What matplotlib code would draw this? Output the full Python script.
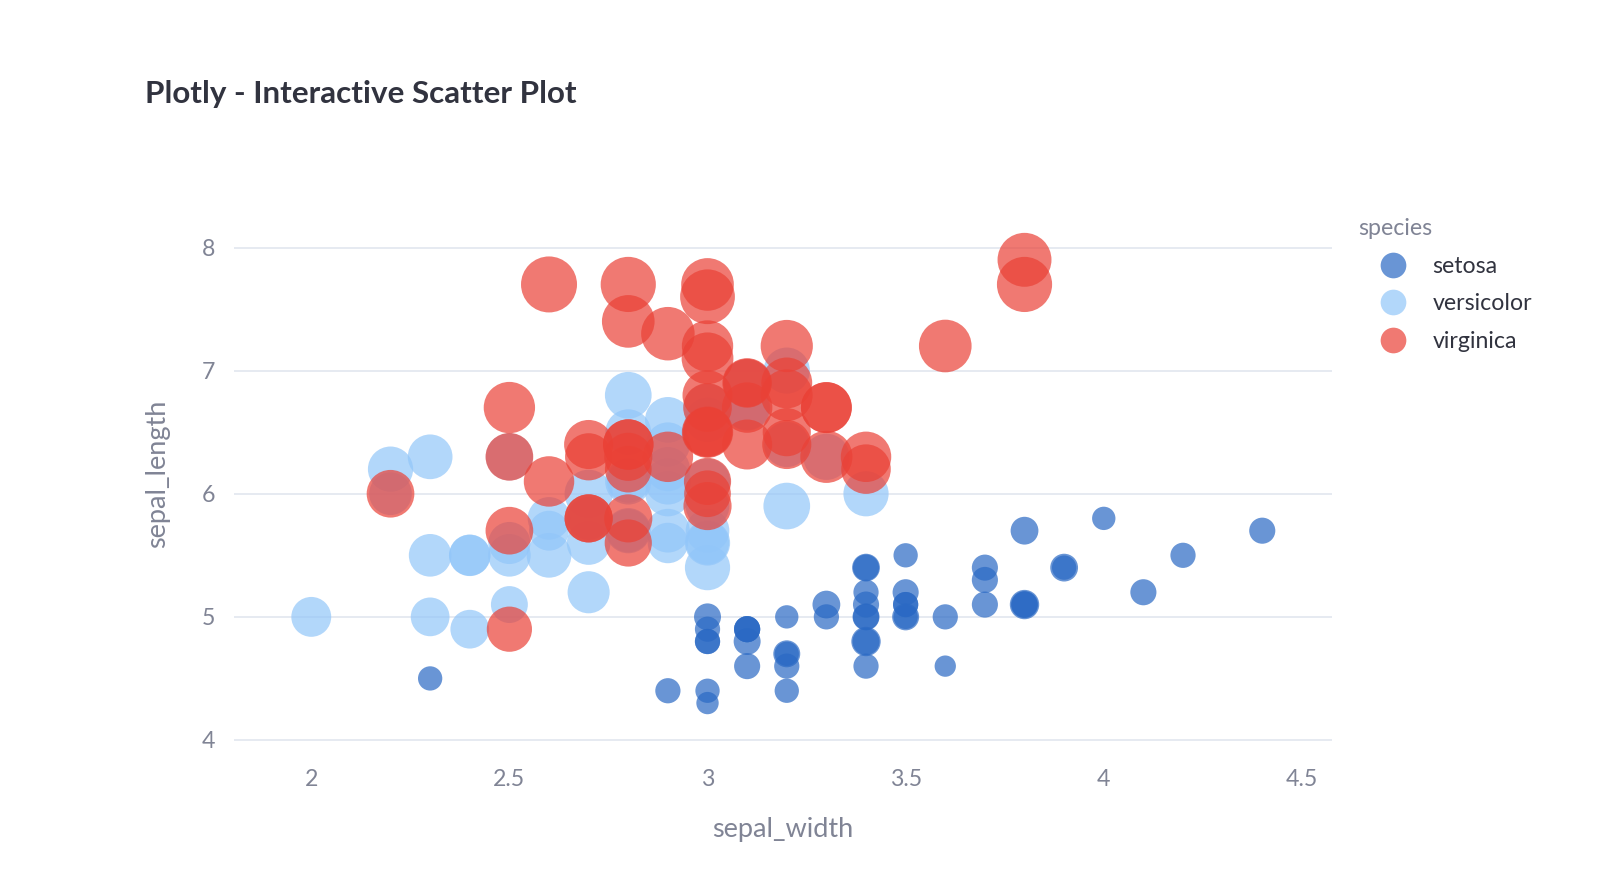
import matplotlib
matplotlib.use("Agg")
import matplotlib.pyplot as plt
from matplotlib.lines import Line2D
import numpy as np

plt.rcParams['font.family'] = ['Lato', 'DejaVu Sans']

species_names = ["setosa", "versicolor", "virginica"]

setosa_sepal_length = [5.1,4.9,4.7,4.6,5.0,5.4,4.6,5.0,4.4,4.9,5.4,4.8,4.8,4.3,5.8,5.7,5.4,5.1,5.7,5.1,
                       5.4,5.1,4.6,5.1,4.8,5.0,5.0,5.2,5.2,4.7,4.8,5.4,5.2,5.5,4.9,5.0,5.5,4.9,4.4,5.1,
                       5.0,4.5,4.4,5.0,5.1,4.8,5.1,4.6,5.3,5.0]
setosa_sepal_width = [3.5,3.0,3.2,3.1,3.6,3.9,3.4,3.4,2.9,3.1,3.7,3.4,3.0,3.0,4.0,4.4,3.9,3.5,3.8,3.8,
                      3.4,3.7,3.6,3.3,3.4,3.0,3.4,3.5,3.4,3.2,3.1,3.4,4.1,4.2,3.1,3.2,3.5,3.1,3.0,3.4,
                      3.5,2.3,3.2,3.5,3.8,3.0,3.8,3.2,3.7,3.3]
setosa_petal_length = [1.4,1.4,1.3,1.5,1.4,1.7,1.4,1.5,1.4,1.5,1.5,1.6,1.4,1.1,1.2,1.5,1.3,1.4,1.7,1.5,
                       1.7,1.5,1.0,1.7,1.9,1.6,1.6,1.5,1.4,1.6,1.6,1.5,1.5,1.4,1.5,1.2,1.3,1.5,1.3,1.5,
                       1.3,1.3,1.3,1.6,1.9,1.4,1.6,1.4,1.5,1.4]

versicolor_sepal_length = [7.0,6.4,6.9,5.5,6.5,5.7,6.3,4.9,6.6,5.2,5.0,5.9,6.0,6.1,5.6,6.7,5.6,5.8,6.2,5.6,
                           5.9,6.1,6.3,6.1,6.4,6.6,6.8,6.7,6.0,5.7,5.5,5.5,5.8,6.0,5.4,6.0,6.7,6.3,5.6,5.5,
                           5.5,6.1,5.8,5.0,5.6,5.7,5.7,6.2,5.1,5.7]
versicolor_sepal_width = [3.2,3.2,3.1,2.3,2.8,2.8,3.3,2.4,2.9,2.7,2.0,3.0,2.2,2.9,2.9,3.1,3.0,2.7,2.2,2.5,
                          3.2,2.8,2.5,2.8,2.9,3.0,2.8,3.0,2.9,2.6,2.4,2.4,2.7,2.7,3.0,3.4,3.1,2.3,3.0,2.5,
                          2.6,3.0,2.6,2.3,2.7,3.0,2.9,2.9,2.5,2.8]
versicolor_petal_length = [4.7,4.5,4.9,4.0,4.6,4.5,4.7,3.3,4.6,3.9,3.5,4.2,4.0,4.7,3.6,4.4,4.5,4.1,4.5,3.9,
                           4.8,4.0,4.9,4.7,4.3,4.4,4.8,5.0,4.5,3.5,3.8,3.7,3.9,5.1,4.5,4.5,4.7,4.4,4.1,4.0,
                           4.4,4.6,4.0,3.3,4.2,4.2,4.2,4.3,3.0,4.1]

virginica_sepal_length = [6.3,5.8,7.1,6.3,6.5,7.6,4.9,7.3,6.7,7.2,6.5,6.4,6.8,5.7,5.8,6.4,6.5,7.7,7.7,6.0,
                          6.9,5.6,7.7,6.3,6.7,7.2,6.2,6.1,6.4,7.2,7.4,7.9,6.4,6.3,6.1,7.7,6.3,6.4,6.0,6.9,
                          6.7,6.9,5.8,6.8,6.7,6.7,6.3,6.5,6.2,5.9]
virginica_sepal_width = [3.3,2.7,3.0,2.9,3.0,3.0,2.5,2.9,2.5,3.6,3.2,2.7,3.0,2.5,2.8,3.2,3.0,3.8,2.6,2.2,
                         3.2,2.8,2.8,2.7,3.3,3.2,2.8,3.0,2.8,3.0,2.8,3.8,2.8,2.8,2.6,3.0,3.4,3.1,3.0,3.1,
                         3.1,3.1,2.7,3.2,3.3,3.0,2.5,3.0,3.4,3.0]
virginica_petal_length = [6.0,5.1,5.9,5.6,5.8,6.6,4.5,6.3,5.8,6.1,5.1,5.3,5.5,5.0,5.1,5.3,5.5,6.7,6.9,5.0,
                          5.7,4.9,6.7,4.9,5.7,6.0,4.8,4.9,5.6,5.8,6.1,6.4,5.6,5.1,5.6,6.1,5.6,5.5,4.8,5.4,
                          5.6,5.1,5.1,5.9,5.7,5.2,5.0,5.2,5.4,5.1]

x_ticks = [2, 2.5, 3, 3.5, 4, 4.5]
x_tick_labels = ["2", "2.5", "3", "3.5", "4", "4.5"]
y_ticks = [4, 5, 6, 7, 8]
y_tick_labels = ["4", "5", "6", "7", "8"]

colors = ["#2A69C4", "#92C6F9", "#EA4136"]
alpha = 0.7

W, H = 1604, 882
fig = plt.figure(figsize=(W / 100, H / 100), dpi=100)
left, right, top, bottom = 234, 1332, 191, 757
ax = fig.add_axes([left / W, 1 - bottom / H, (right - left) / W, (bottom - top) / H])

all_petal = setosa_petal_length + versicolor_petal_length + virginica_petal_length
pmax = max(all_petal)
max_d_pt = 56 * 0.72

series = [
    (setosa_sepal_width, setosa_sepal_length, setosa_petal_length),
    (versicolor_sepal_width, versicolor_sepal_length, versicolor_petal_length),
    (virginica_sepal_width, virginica_sepal_length, virginica_petal_length),
]
for (xs, ys, ps), c, name in zip(series, colors, species_names):
    sizes = (max_d_pt ** 2) * np.array(ps) / pmax
    ax.scatter(xs, ys, s=sizes, c=c, alpha=alpha, linewidths=0, label=name, zorder=3)

ax.set_xlim(1.805, 4.576)
ax.set_ylim(4 - (bottom - 740) / 123.1, 8 + (247.5 - top) / 123.1)

ax.set_xticks(x_ticks)
ax.set_xticklabels(x_tick_labels)
ax.set_yticks(y_ticks)
ax.set_yticklabels(y_tick_labels)

tick_color = "#808495"
ax.tick_params(axis='both', length=0, labelsize=16.7, colors=tick_color)
ax.tick_params(axis='x', pad=8.6)
ax.tick_params(axis='y', pad=13.5)

for sp in ax.spines.values():
    sp.set_visible(False)
ax.yaxis.grid(True, color="#E6EAF1", linewidth=1.4, zorder=0)
ax.xaxis.grid(False)
ax.set_axisbelow(True)

ax.set_xlabel("sepal_width", fontsize=19.5, color=tick_color)
ax.xaxis.set_label_coords(0.5, (bottom - 829) / (bottom - top))
ax.xaxis.label.set_va('center')
ax.set_ylabel("sepal_length", fontsize=19.5, color=tick_color)
ax.yaxis.set_label_coords((158 - left) / (right - left), 0.5)
ax.yaxis.label.set_va('center')

fig.text(145 / W, 1 - 103 / H, "Plotly - Interactive Scatter Plot", fontsize=22.6,
         fontweight='bold', color="#31333F", ha='left', va='baseline')

handles = [Line2D([0], [0], marker='o', linestyle='none', markersize=18.5,
                  markerfacecolor=c, markeredgewidth=0, alpha=alpha) for c in colors]
leg = ax.legend(handles, species_names, title="species", loc='upper left',
                bbox_to_anchor=(1358 / W, 1 - 218 / H), bbox_transform=fig.transFigure,
                frameon=False, fontsize=16.7, title_fontsize=16.7, alignment='left',
                handlelength=3.0, handletextpad=0.21, labelspacing=0.72,
                borderpad=0, borderaxespad=0)
leg.get_title().set_color(tick_color)
for t in leg.get_texts():
    t.set_color("#31333F")

fig.savefig("out.png", dpi=100, facecolor="white")
